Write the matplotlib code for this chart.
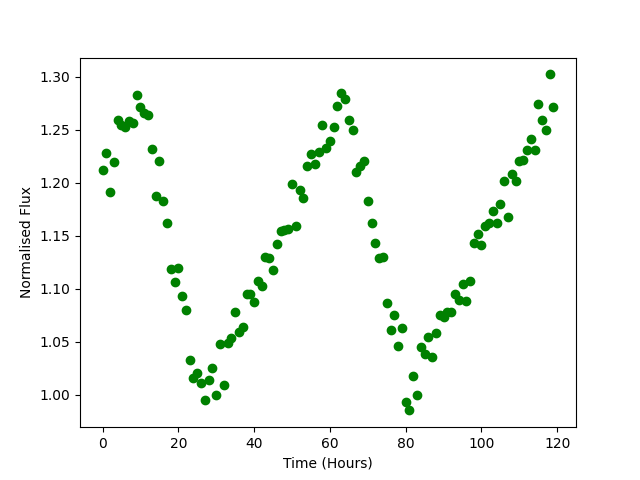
import numpy as np
import matplotlib
matplotlib.use('Agg')
import matplotlib.pyplot as plt

# hourly normalised flux readings
time = np.arange(0, 120)
flux = [1.212, 1.228, 1.191, 1.219, 1.259, 1.254, 1.252, 1.258, 1.256, 1.283,
        1.271, 1.266, 1.264, 1.232, 1.187, 1.220, 1.183, 1.162, 1.118, 1.106,
        1.119, 1.093, 1.080, 1.033, 1.016, 1.020, 1.011, 0.995, 1.014, 1.025,
        1.000, 1.048, 1.009, 1.049, 1.053, 1.078, 1.059, 1.064, 1.095, 1.095,
        1.087, 1.107, 1.102, 1.130, 1.129, 1.117, 1.142, 1.154, 1.155, 1.156,
        1.199, 1.159, 1.193, 1.185, 1.216, 1.227, 1.217, 1.229, 1.254, 1.233,
        1.239, 1.252, 1.272, 1.284, 1.279, 1.259, 1.250, 1.210, 1.216, 1.220,
        1.183, 1.162, 1.143, 1.129, 1.130, 1.086, 1.061, 1.075, 1.046, 1.063,
        0.993, 0.985, 1.017, 1.000, 1.045, 1.038, 1.054, 1.035, 1.058, 1.075,
        1.073, 1.078, 1.078, 1.095, 1.089, 1.104, 1.088, 1.107, 1.143, 1.151,
        1.141, 1.159, 1.162, 1.173, 1.162, 1.180, 1.201, 1.167, 1.208, 1.201,
        1.220, 1.221, 1.231, 1.241, 1.231, 1.274, 1.259, 1.250, 1.302, 1.271]

plt.figure(figsize=(6.4, 4.8), dpi=100)
plt.plot(time, flux, 'go')
plt.xlabel('Time (Hours)')
plt.ylabel('Normalised Flux')
plt.savefig('out.png')
